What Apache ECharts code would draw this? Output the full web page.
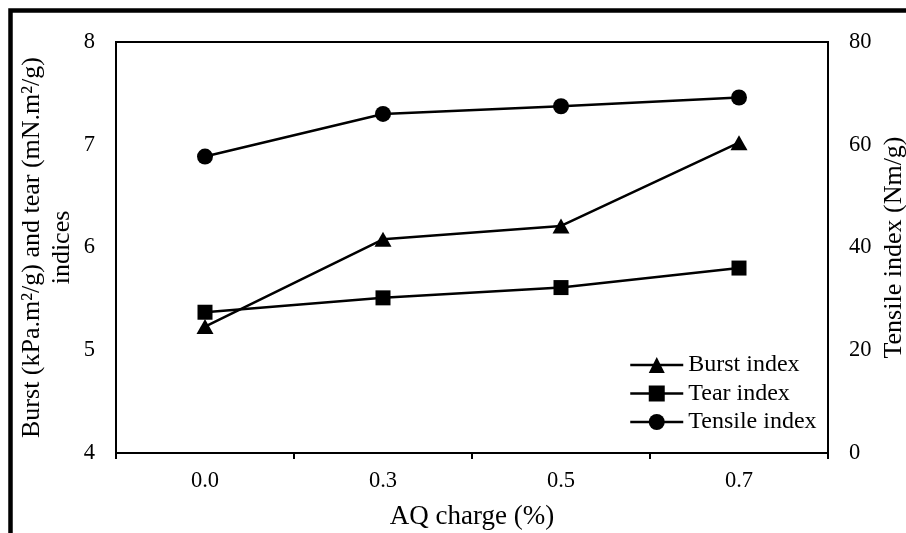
<!DOCTYPE html>
<html>
<head>
<meta charset="utf-8">
<script src="https://cdn.jsdelivr.net/npm/echarts@6/dist/echarts.min.js"></script>
<style>
html,body{margin:0;padding:0;background:#fff;}
#chart{width:906px;height:533px;}
</style>
</head>
<body>
<div id="chart"></div>
<script>
const categories = ['0.0', '0.3', '0.5', '0.7'];
const burstIndex = [5.23, 6.08, 6.21, 7.02];
const tearIndex = [5.37, 5.51, 5.61, 5.80];
const tensileIndex = [57.7, 66.0, 67.5, 69.2];
const leftTicks = [4, 5, 6, 7, 8];
const rightTicks = [0, 20, 40, 60, 80];

const FONT = '"Liberation Serif", "Times New Roman", serif';
const chart = echarts.init(document.getElementById('chart'), null, {renderer: 'canvas'});

chart.setOption({
  animation: false,
  backgroundColor: '#fff',
  textStyle: {fontFamily: FONT, color: '#000'},
  graphic: [{
    type: 'rect',
    shape: {x: 10.5, y: 10.5, width: 1000, height: 1000},
    style: {fill: 'none', stroke: '#000', lineWidth: 4.5},
    silent: true
  }],
  grid: {
    left: 116, right: 78, top: 42, bottom: 80,
    containLabel: false,
    outerBoundsMode: 'none',
    show: true, borderColor: '#000', borderWidth: 2, backgroundColor: 'transparent'
  },
  legend: {
    orient: 'vertical',
    left: 629, top: 353,
    padding: 0,
    itemWidth: 53, itemHeight: 20, itemGap: 4.5,
    lineStyle: {width: 2.5, color: '#000'},
    textStyle: {fontFamily: FONT, fontSize: 24, color: '#000', lineHeight: 24},
    data: ['Burst index', 'Tear index', 'Tensile index']
  },
  xAxis: {
    type: 'category',
    data: categories,
    boundaryGap: true,
    name: 'AQ charge (%)',
    nameLocation: 'middle',
    nameGap: 50,
    nameMoveOverlap: false,
    nameTextStyle: {fontFamily: FONT, fontSize: 27, color: '#000'},
    axisLine: {show: true, lineStyle: {color: '#000', width: 2}},
    axisTick: {show: true, length: 6, inside: false, lineStyle: {color: '#000', width: 2}},
    axisLabel: {fontFamily: FONT, fontSize: 22.5, color: '#000', margin: 17},
    splitLine: {show: false}
  },
  yAxis: [{
    type: 'value',
    min: leftTicks[0], max: leftTicks[leftTicks.length - 1], interval: 1,
    position: 'left',
    name: 'Burst (kPa.m²/g) and tear (mN.m²/g)\nindices',
    nameLocation: 'middle',
    nameRotate: 90,
    nameGap: 39,
    nameMoveOverlap: false,
    nameTextStyle: {fontFamily: FONT, fontSize: 26, color: '#000', lineHeight: 30, align: 'center'},
    axisLine: {show: true, lineStyle: {color: '#000', width: 2}},
    axisTick: {show: false},
    axisLabel: {fontFamily: FONT, fontSize: 22.5, color: '#000', margin: 21},
    splitLine: {show: false}
  }, {
    type: 'value',
    min: rightTicks[0], max: rightTicks[rightTicks.length - 1], interval: 20,
    position: 'right',
    name: 'Tensile index (Nm/g)',
    nameLocation: 'middle',
    nameRotate: 90,
    nameGap: 53,
    nameMoveOverlap: false,
    nameTextStyle: {fontFamily: FONT, fontSize: 26, color: '#000'},
    axisLine: {show: true, lineStyle: {color: '#000', width: 2}},
    axisTick: {show: false},
    axisLabel: {fontFamily: FONT, fontSize: 22.5, color: '#000', margin: 21},
    splitLine: {show: false}
  }],
  series: [{
    name: 'Burst index',
    type: 'line',
    yAxisIndex: 0,
    data: burstIndex,
    symbol: 'triangle',
    symbolSize: [17, 15],
    itemStyle: {color: '#000'},
    lineStyle: {color: '#000', width: 2.5}
  }, {
    name: 'Tear index',
    type: 'line',
    yAxisIndex: 0,
    data: tearIndex,
    symbol: 'rect',
    symbolSize: 15,
    itemStyle: {color: '#000'},
    lineStyle: {color: '#000', width: 2.5}
  }, {
    name: 'Tensile index',
    type: 'line',
    yAxisIndex: 1,
    data: tensileIndex,
    symbol: 'circle',
    symbolSize: 16,
    itemStyle: {color: '#000'},
    lineStyle: {color: '#000', width: 2.5}
  }]
});
</script>
</body>
</html>
